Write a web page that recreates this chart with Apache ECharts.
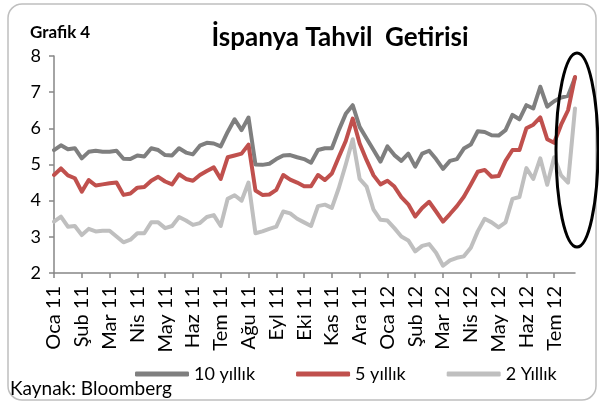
<!DOCTYPE html>
<html>
<head>
<meta charset="utf-8">
<script src="https://cdn.jsdelivr.net/npm/echarts@6/dist/echarts.min.js"></script>
<style>
html, body { margin: 0; padding: 0; background: #fff; }
#main { width: 599px; height: 403px; }
</style>
</head>
<body>
<div id="main"></div>
<script>
// ay etiketleri (x ekseni), her ay 4 nokta
var months = ['Oca 11', 'Şub 11', 'Mar 11', 'Nis 11', 'May 11', 'Haz 11', 'Tem 11', 'Ağu 11', 'Eyl 11', 'Eki 11',
	'Kas 11', 'Ara 11', 'Oca 12', 'Şub 12', 'Mar 12', 'Nis 12', 'May 12', 'Haz 12', 'Tem 12'];
var perMonth = 4;

var seriesNames = ['10 yıllık', '5 yıllık', '2 Yıllık'];

var yil10 = [5.40, 5.53, 5.42, 5.45, 5.17, 5.35, 5.38, 5.35, 5.35, 5.38,
	5.16, 5.15, 5.25, 5.22, 5.45, 5.40, 5.26, 5.25, 5.45, 5.33,
	5.28, 5.52, 5.60, 5.58, 5.50, 5.90, 6.25, 5.95, 6.30, 5.00,
	4.99, 5.02, 5.15, 5.25, 5.26, 5.20, 5.15, 5.05, 5.40, 5.45,
	5.45, 5.95, 6.40, 6.64, 6.04, 5.72, 5.40, 5.08, 5.50, 5.26,
	5.10, 5.30, 4.94, 5.30, 5.38, 5.15, 4.88, 5.10, 5.15, 5.44,
	5.55, 5.92, 5.90, 5.81, 5.80, 5.95, 6.37, 6.25, 6.64, 6.55,
	7.15, 6.60, 6.75, 6.85, 6.90, 7.40];

var yil5 = [4.71, 4.89, 4.70, 4.62, 4.25, 4.57, 4.42, 4.45, 4.48, 4.50,
	4.16, 4.20, 4.36, 4.38, 4.55, 4.66, 4.53, 4.45, 4.73, 4.60,
	4.55, 4.71, 4.82, 4.92, 4.60, 5.20, 5.25, 5.30, 5.55, 4.28,
	4.16, 4.17, 4.30, 4.71, 4.58, 4.50, 4.40, 4.40, 4.71, 4.57,
	4.75, 5.21, 5.65, 6.27, 5.58, 5.12, 4.70, 4.45, 4.55, 4.39,
	4.10, 3.90, 3.56, 3.80, 3.97, 3.70, 3.42, 3.63, 3.85, 4.11,
	4.45, 4.80, 4.85, 4.66, 4.68, 5.10, 5.40, 5.40, 6.00, 6.10,
	6.30, 5.70, 5.60, 6.10, 6.50, 7.42];

var yil2 = [3.42, 3.56, 3.28, 3.30, 3.05, 3.22, 3.15, 3.17, 3.17, 3.01,
	2.85, 2.92, 3.10, 3.10, 3.40, 3.40, 3.24, 3.30, 3.55, 3.45,
	3.33, 3.38, 3.55, 3.60, 3.30, 4.05, 4.15, 4.00, 4.50, 3.10,
	3.15, 3.22, 3.28, 3.70, 3.65, 3.50, 3.40, 3.30, 3.85, 3.89,
	3.80, 4.35, 5.00, 5.70, 4.60, 4.39, 3.75, 3.47, 3.45, 3.24,
	3.01, 2.90, 2.60, 2.75, 2.80, 2.56, 2.20, 2.35, 2.42, 2.46,
	2.70, 3.15, 3.50, 3.40, 3.26, 3.40, 4.05, 4.10, 4.90, 4.60,
	5.17, 4.44, 5.20, 4.70, 4.50, 6.55];

var yMin = 2, yMax = 8, yStep = 1;

// kategoriler: her ay için 4 nokta
var categories = [];
for (var m = 0; m < months.length; m++) {
	for (var w = 0; w < perMonth; w++) {
		categories.push(months[m] + '|' + w);
	}
}

var font = 'Lato';
var myChart = echarts.init(document.getElementById('main'));

var option = {
	animation: false,
	backgroundColor: '#ffffff',
	title: {
		text: 'İspanya Tahvil  Getirisi',
		left: 335,
		textAlign: 'center',
		top: 20,
		textStyle: {
			fontFamily: font,
			fontWeight: 'bold',
			fontSize: 26,
			color: '#000'
		}
	},
	legend: {
		data: seriesNames,
		left: 130,
		top: 360,
		icon: 'roundRect',
		itemWidth: 54,
		itemHeight: 5,
		itemGap: 41,
		textStyle: {
			fontFamily: font,
			fontSize: 18,
			color: '#000'
		}
	},
	grid: {
		left: 54,
		right: 24,
		top: 56,
		bottom: 130
	},
	xAxis: {
		type: 'category',
		data: categories,
		boundaryGap: false,
		axisLine: { lineStyle: { color: '#868686', width: 1.5 } },
		axisTick: {
			interval: perMonth - 1,
			length: 5,
			lineStyle: { color: '#868686', width: 1.5 }
		},
		axisLabel: {
			interval: perMonth - 1,
			rotate: 90,
			margin: 13,
			fontFamily: font,
			fontSize: 20,
			color: '#000',
			formatter: function (v) { return v.split('|')[0]; }
		},
		splitLine: { show: false }
	},
	yAxis: {
		type: 'value',
		min: yMin,
		max: yMax,
		interval: yStep,
		axisLine: { show: true, lineStyle: { color: '#868686', width: 1.5 } },
		axisTick: { show: true, length: 5, lineStyle: { color: '#868686', width: 1.5 } },
		axisLabel: {
			margin: 13,
			fontFamily: font,
			fontSize: 18,
			color: '#000'
		},
		splitLine: { show: false }
	},
	series: [
		{
			name: seriesNames[0],
			type: 'line',
			data: yil10,
			symbol: 'none',
			itemStyle: { color: '#7f7f7f' },
			lineStyle: { color: '#7f7f7f', width: 4, cap: 'round', join: 'round' }
		},
		{
			name: seriesNames[1],
			type: 'line',
			data: yil5,
			symbol: 'none',
			itemStyle: { color: '#c0504d' },
			lineStyle: { color: '#c0504d', width: 4, cap: 'round', join: 'round' }
		},
		{
			name: seriesNames[2],
			type: 'line',
			data: yil2,
			symbol: 'none',
			itemStyle: { color: '#bfbfbf' },
			lineStyle: { color: '#bfbfbf', width: 4, cap: 'round', join: 'round' }
		}
	],
	graphic: [
		{
			type: 'rect',
			silent: true,
			shape: { x: 8, y: 4, width: 588, height: 396, r: 14 },
			style: { fill: 'none', stroke: '#bfbfbf', lineWidth: 1.5 }
		},
		{
			type: 'ellipse',
			silent: true,
			z: 100,
			shape: { cx: 577, cy: 150, rx: 21, ry: 97 },
			style: { fill: 'none', stroke: '#000', lineWidth: 3 }
		},
		{
			type: 'text',
			silent: true,
			left: 30,
			top: 24,
			style: { text: 'Grafik 4', font: 'bold 17px Lato', fill: '#000' }
		},
		{
			type: 'text',
			silent: true,
			left: 10,
			top: 379,
			style: { text: 'Kaynak: Bloomberg', font: '19px Lato', fill: '#000' }
		}
	]
};

myChart.setOption(option);
</script>
</body>
</html>
